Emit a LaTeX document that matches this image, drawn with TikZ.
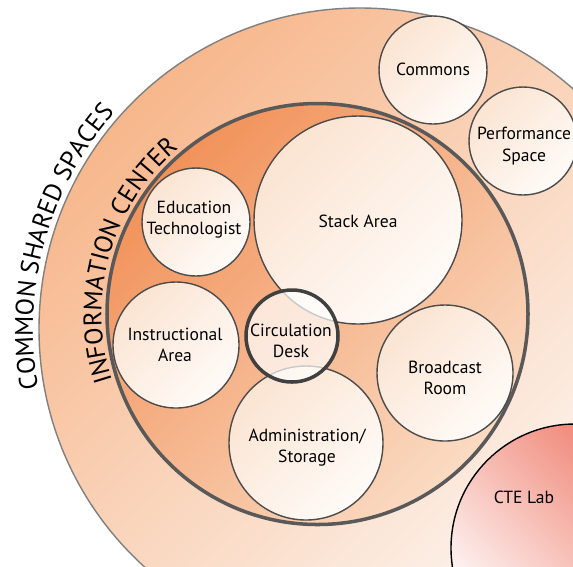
\documentclass[tikz,border=0pt]{standalone}
\usepackage{fontspec}
\setmainfont{PT Sans}
\usetikzlibrary{decorations.text}
\definecolor{sharedtop}{HTML}{F7B78C}
\definecolor{sharedbot}{HTML}{FDF7F3}
\definecolor{infotop}{HTML}{F2925A}
\definecolor{infobot}{HTML}{FADBC3}
\definecolor{roomtop}{HTML}{FBE4D2}
\definecolor{roombot}{HTML}{FFFBF8}
\definecolor{ctetop}{HTML}{EE7664}

\begin{document}
\begin{tikzpicture}[x=0.02cm,y=0.02cm,
    roomline/.style={circle,draw=black!70,line width=0.8pt,inner sep=0pt,
      minimum size=#1*0.02cm},
    room/.style={roomline=#1,top color=roomtop,bottom color=roombot,shading angle=45},
    roomtext/.style={align=center,font=\fontsize{10}{12}\selectfont},
    arclabel/.style={decorate,decoration={text along path,text align=center,
      text={|\fontsize{14.5}{15}\selectfont|#1}}}]
  \useasboundingbox (0,0) rectangle (573,-566);
  \clip (0,0) rectangle (573,-566);
  \fill[white] (0,0) rectangle (573,-566);

  \node[circle,inner sep=0pt,minimum size=642*0.02cm,draw=black!50,line width=0.8pt,
    top color=sharedtop,bottom color=sharedbot,shading angle=45] (shared) at (360,-329) {};
  \node[circle,inner sep=0pt,minimum size=421*0.02cm,draw=black!65,line width=2pt,
    top color=infotop,bottom color=infobot,shading angle=45] (info) at (317.5,-314) {};

  \node[room=208] (stack) at (358,-220) {};
  \node[room=108] (edutech) at (196,-222) {};
  \node[room=126] (instr) at (176,-345) {};
  \node[room=154] (admin) at (306,-443) {};
  \node[room=136] (broadcast) at (445,-373) {};
  \node[roomline=92,fill=white,fill opacity=0.7,draw=black!75,line width=2pt] (circdesk) at (292,-336) {};
  \node[room=108] (commons) at (433,-70) {};
  \node[room=108] (perf) at (523,-141) {};
  \node[room=248,draw=black,top color=ctetop,bottom color=white,shading angle=-45] (cte) at (575,-548) {};

  \node[roomtext] (stacklabel) at (358,-221) {Stack Area};
  \node[roomtext] (edutechlabel) at (194,-220) {Education\\Technologist};
  \node[roomtext] (instrlabel) at (175,-345) {Instructional\\Area};
  \node[roomtext] (circdesklabel) at (291,-341) {Circulation\\Desk};
  \node[roomtext] (broadcastlabel) at (445,-378) {Broadcast\\Room};
  \node[roomtext] (adminlabel) at (307,-448) {Administration/\\Storage};
  \node[roomtext] (commonslabel) at (433,-69) {Commons};
  \node[roomtext] (perflabel) at (524,-146) {Performance\\Space};
  \node[roomtext] (ctelabel) at (524,-497) {CTE Lab};

  \path[arclabel={COMMON SHARED SPACES}] (shared.center) ++(200:327)
    arc[start angle=200,end angle=129,radius=327];
  \path[arclabel={INFORMATION CENTER}] (info.center) ++(200:216)
    arc[start angle=200,end angle=128,radius=216];
\end{tikzpicture}
\end{document}
